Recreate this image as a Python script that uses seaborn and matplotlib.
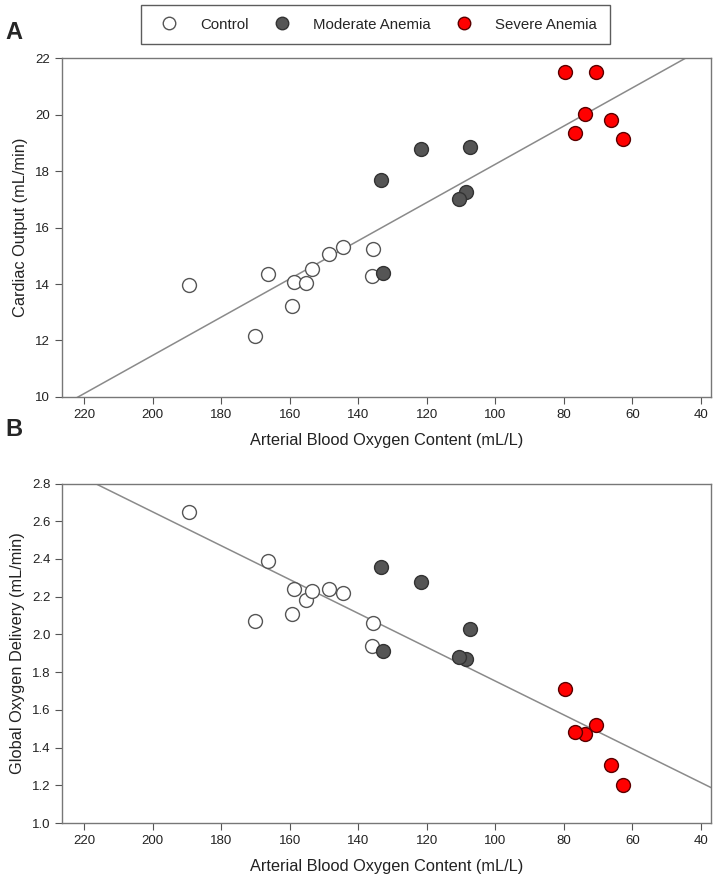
import numpy as np
import pandas as pd
import seaborn as sns
import matplotlib.pyplot as plt

# values
groups = ["Control"] * 11 + ["Moderate Anemia"] * 6 + ["Severe Anemia"] * 6
cao2 = [189.4, 166.4, 158.9, 155.4, 159.5, 170.1, 153.4, 148.6, 144.6, 135.7, 136.0,
        133.3, 121.6, 107.5, 108.7, 110.5, 132.9,
        79.7, 70.7, 73.7, 76.7, 66.2, 62.8]
cardiac_output = [13.95, 14.36, 14.07, 14.02, 13.23, 12.15, 14.53, 15.07, 15.32, 15.23, 14.29,
                  17.70, 18.77, 18.87, 17.26, 17.01, 14.40,
                  21.53, 21.52, 20.03, 19.36, 19.81, 19.13]
oxygen_delivery = [2.65, 2.39, 2.24, 2.18, 2.11, 2.07, 2.23, 2.24, 2.22, 2.06, 1.94,
                   2.36, 2.28, 2.03, 1.87, 1.88, 1.91,
                   1.71, 1.52, 1.47, 1.48, 1.31, 1.20]

x_ticks = [220, 200, 180, 160, 140, 120, 100, 80, 60, 40]
co_ticks = [10, 12, 14, 16, 18, 20, 22]
do2_ticks = [1.0, 1.2, 1.4, 1.6, 1.8, 2.0, 2.2, 2.4, 2.6, 2.8]

df = pd.DataFrame({"group": groups, "cao2": cao2, "co": cardiac_output, "do2": oxygen_delivery})

sns.set_style("white")
plt.rcParams['font.family'] = ['Liberation Sans', 'DejaVu Sans']

palette = {"Control": "white", "Moderate Anemia": "#555555", "Severe Anemia": "#ff0000"}
edges = {"Control": "#555555", "Moderate Anemia": "#333333", "Severe Anemia": "#5a0000"}

fig = plt.figure(figsize=(7.22, 8.84), dpi=100)
ax_a = fig.add_axes([0.086, 0.551, 0.899, 0.383])
ax_b = fig.add_axes([0.086, 0.069, 0.899, 0.384])

panels = [(ax_a, "co", "Cardiac Output (mL/min)", co_ticks, (10, 22), "A", 0.963),
          (ax_b, "do2", "Global Oxygen Delivery (mL/min)", do2_ticks, (1.0, 2.8), "B", 0.514)]

for ax, col, ylab, yticks, ylim, letter, ly in panels:
    ax.set_xlim(226.5, 37)
    ax.set_ylim(*ylim)
    sns.regplot(data=df, x="cao2", y=col, ax=ax, scatter=False, ci=None, truncate=False,
                line_kws={"color": "#8a8a8a", "lw": 1.1, "zorder": 1})
    for g in palette:
        sub = df[df.group == g]
        sns.scatterplot(data=sub, x="cao2", y=col, ax=ax, color=palette[g], s=100,
                        edgecolor=edges[g], linewidth=1.0, zorder=3, label=g, legend=False)
    ax.set_xlim(226.5, 37)
    ax.set_ylim(*ylim)
    ax.set_xticks(x_ticks)
    ax.set_yticks(yticks)
    if col == "do2":
        ax.set_yticklabels([f"{t:.1f}" for t in yticks])
    ax.tick_params(direction="out", length=5, width=0.8, color="#555555",
                   labelsize=9.5, labelcolor="#222222", bottom=True, left=True)
    for sp in ax.spines.values():
        sp.set_color("#777777")
        sp.set_linewidth(1.0)
    ax.set_xlabel("Arterial Blood Oxygen Content (mL/L)", fontsize=11.8, labelpad=9, color="#222222")
    ax.set_ylabel(ylab, fontsize=11.8, labelpad=5, color="#222222")
    fig.text(0.008, ly, letter, fontsize=17, fontweight="bold", va="center")

handles = [plt.Line2D([], [], marker="o", ls="", markersize=9, markerfacecolor=palette[g],
                      markeredgecolor=edges[g], label=g) for g in palette]
fig.legend(handles=handles, loc="upper center", bbox_to_anchor=(0.52, 1.003), ncol=3,
           frameon=True, fancybox=False, edgecolor="#333333", fontsize=10.8,
           handletextpad=1.1, columnspacing=1.2, borderpad=0.85)

fig.savefig("out.png", dpi=100)
